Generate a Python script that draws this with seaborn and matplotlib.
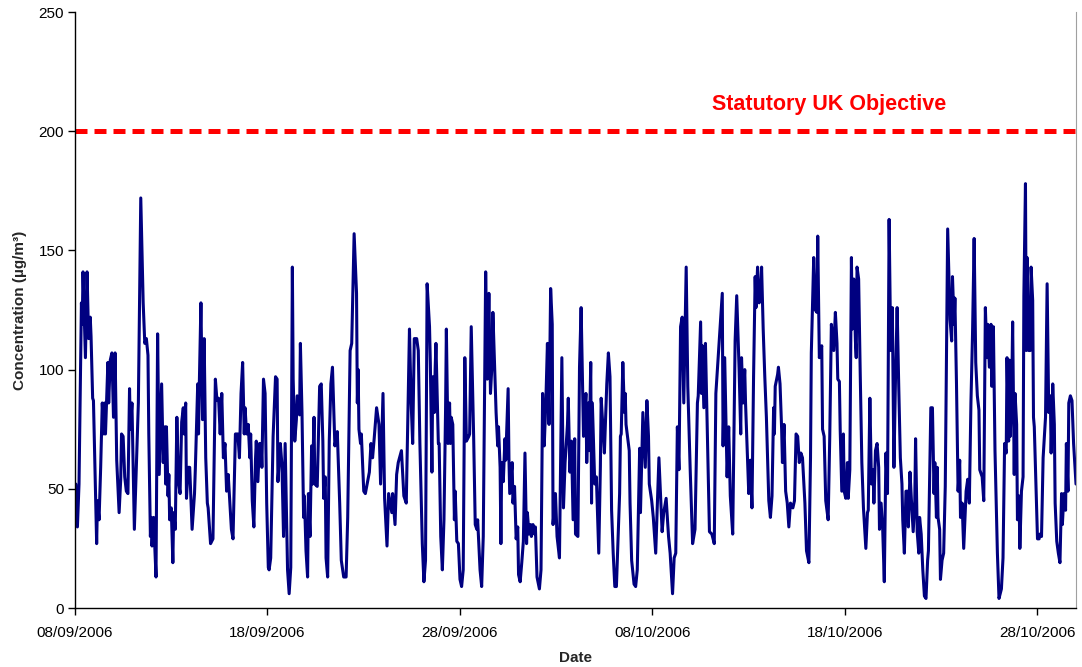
import matplotlib
matplotlib.use("Agg")
import matplotlib.pyplot as plt
import numpy as np
import pandas as pd
import seaborn as sns

# Hourly NO2 concentrations (ug/m3), hours counted from 08/09/2006 00:00
hours = [
    0, 1, 3, 5, 8, 9, 10, 13, 15, 17, 19, 20, 22, 23, 25, 27, 28, 30, 32, 34,
    36, 37, 38, 41, 42, 44, 46, 48, 50, 52, 55, 57, 58, 60, 62, 64, 66, 68, 69, 71,
    74, 79, 82, 85, 87, 89, 91, 92, 94, 95, 96, 98, 101, 103, 105,
    108, 110, 112, 113, 114, 116, 117, 118, 120, 122, 123, 125, 127, 129, 131, 133, 135, 136,
    138, 139, 141, 143, 146, 149, 150, 153, 154, 155, 157, 159, 161, 163, 165, 166, 169, 172,
    175, 177, 179, 181, 183, 185, 187, 189, 191, 195, 197, 200, 203, 205, 207, 209, 211,
    212, 214, 216, 218, 219, 221, 223, 225, 226, 228, 230, 232, 233, 235, 237, 239, 241, 242,
    244, 247, 250, 252, 253, 256, 258, 260, 262, 265, 267, 269, 271, 272, 274, 276, 277, 280,
    281, 283, 285, 286, 288, 290, 291, 293, 295, 296, 298, 299, 302, 305, 307, 309, 310, 312,
    313, 315, 317, 319, 321,
    324, 327, 330, 332, 335, 338, 340, 343, 345, 348, 351, 352, 353, 354, 356, 357, 360, 362,
    367, 369, 371, 373, 376, 379, 381, 384, 386, 389, 391, 395, 396, 399, 401, 403, 407, 410,
    413, 417, 419, 421, 423,
    426, 428, 430, 433, 435, 437, 439, 442, 443, 445, 446, 448, 449, 450, 453, 454, 456, 458,
    460, 462, 463, 465, 467, 468, 469, 471, 473, 474, 476, 478, 480, 482, 484, 486, 488, 491,
    492, 494, 497, 499, 501, 502, 505, 507, 509, 512, 514, 516, 518, 520, 521,
    525, 527, 528, 530, 531, 532, 534, 536, 537, 540, 541, 542, 545, 546, 548, 550, 552, 553,
    555, 557, 559, 561, 563, 564, 566, 568, 569, 571, 573, 574, 576, 579, 581, 583, 585, 587,
    589, 591, 593, 595, 596, 599, 601, 604, 606, 607, 609, 611, 614, 615, 617, 619, 621, 623,
    624, 627, 629, 631,
    634, 637, 638, 640, 641, 643, 644, 645, 648, 650, 653, 655, 656, 658, 660, 663, 665, 667,
    669, 671, 673, 675, 679, 680, 681, 683, 685, 686, 687, 691, 692, 694, 697, 699, 701, 704,
    705, 708, 711, 713, 715, 716, 719, 721, 724, 728, 732, 734, 737, 740,
    742, 745, 747, 749, 751, 753, 755, 757, 759, 762, 764, 767, 770, 773, 776, 777, 780, 781,
    782, 784, 786, 788, 791, 794, 797, 799, 803, 807, 808, 810, 813, 815, 817, 820, 823, 825,
    828, 830, 831, 833, 835, 836, 840, 842, 844,
    846, 848, 849, 851, 853, 855, 856, 858, 860, 862, 865, 867, 869, 871, 872, 873, 876, 877,
    879, 881, 882, 884, 886, 888, 890, 892, 895, 897, 899, 901, 903, 905, 907, 910, 912, 915,
    917, 918, 921, 923, 925, 926, 928, 931, 932, 934, 936, 939, 941, 943, 946, 948,
    950, 951, 953, 954, 956, 958, 959, 961, 963, 964, 966, 968, 969, 971, 973, 974, 975, 977,
    979, 981, 983, 986, 988, 989, 991, 993, 995, 996, 998, 1000, 1002, 1003, 1005, 1007, 1009,
    1011, 1013, 1015, 1017, 1019, 1021, 1023, 1025, 1027, 1029, 1031, 1032, 1034, 1036, 1038,
    1039, 1041, 1043, 1045, 1047, 1048, 1050, 1052, 1053, 1055, 1057,
    1059, 1061, 1063, 1064, 1067, 1069, 1071, 1072, 1074, 1075, 1076, 1078, 1079, 1081, 1083,
    1085, 1088, 1091, 1093, 1094, 1096, 1097, 1099, 1101, 1103, 1104, 1106, 1108, 1111, 1113,
    1115, 1117, 1119, 1121, 1123, 1125, 1127, 1128, 1131, 1133, 1135, 1137, 1138, 1140, 1142,
    1143, 1145, 1147, 1150, 1152,
    1155, 1157, 1159, 1161, 1162, 1164, 1165, 1166, 1168, 1169, 1171, 1172, 1174, 1175, 1177,
    1178, 1180, 1182, 1183, 1185, 1186, 1187, 1189, 1191, 1192, 1194, 1195, 1196, 1198, 1200,
    1202, 1203, 1205, 1207, 1210, 1212, 1214, 1216, 1217, 1219, 1221, 1222, 1224, 1226, 1228,
    1230, 1231, 1233, 1235, 1236, 1238, 1239, 1241, 1243, 1245, 1248,
]

concentration = [
    52, 52, 34, 52, 128, 119, 141, 105, 141, 113, 122, 114, 88, 87, 58, 27, 45, 37, 59, 86,
    73, 86, 73, 103, 86, 104, 107, 80, 107, 62, 40, 54, 73, 72, 55, 49, 48, 92, 75, 86,
    33, 86, 172, 128, 111, 113, 106, 73, 30, 38, 26, 38, 13, 115, 56,
    94, 61, 76, 52, 76, 47, 56, 37, 42, 19, 40, 33, 80, 53, 48, 78, 84, 73,
    86, 46, 59, 59, 33, 48, 58, 94, 73, 94, 128, 79, 113, 63, 44, 42, 27, 29,
    96, 87, 88, 73, 90, 63, 69, 49, 56, 33, 29, 73, 73, 63, 90, 103, 73,
    84, 73, 77, 63, 73, 45, 34, 62, 70, 53, 69, 69, 59, 96, 90, 44, 17, 16,
    21, 72, 97, 96, 53, 69, 60, 30, 69, 16, 6, 17, 143, 96, 70, 79, 89, 81,
    111, 82, 38, 47, 24, 13, 48, 30, 68, 52, 80, 52, 51, 93, 94, 70, 46, 55,
    21, 13, 70, 94, 101,
    68, 74, 44, 20, 13, 13, 38, 108, 111, 157, 132, 86, 100, 75, 69, 73, 49, 48,
    57, 69, 63, 71, 84, 77, 52, 90, 46, 26, 48, 40, 48, 35, 56, 61, 66, 47,
    44, 117, 87, 69, 113,
    113, 108, 69, 27, 11, 20, 136, 118, 103, 57, 97, 82, 100, 111, 69, 69, 30, 16,
    37, 83, 117, 69, 86, 69, 80, 77, 37, 49, 28, 27, 12, 9, 16, 105, 70, 72,
    73, 118, 72, 35, 33, 37, 16, 9, 30, 141, 96, 132, 90, 103, 124,
    82, 68, 76, 59, 27, 61, 53, 71, 62, 92, 63, 48, 61, 44, 51, 29, 34, 14,
    11, 19, 28, 65, 27, 40, 31, 35, 30, 35, 31, 34, 13, 8, 16, 90, 68, 86,
    111, 77, 134, 119, 35, 48, 30, 21, 75, 105, 42, 61, 77, 88, 57, 70, 37, 71,
    31, 30, 101, 126,
    72, 90, 61, 86, 66, 103, 44, 86, 52, 55, 23, 59, 88, 77, 65, 94, 107, 97,
    41, 23, 9, 9, 48, 72, 73, 103, 82, 90, 77, 66, 44, 20, 10, 9, 16, 67,
    40, 82, 59, 87, 72, 52, 45, 38, 23, 63, 32, 40, 46, 30,
    23, 6, 21, 23, 76, 58, 118, 122, 86, 143, 93, 58, 27, 33, 86, 89, 120, 90,
    110, 84, 111, 79, 32, 31, 27, 90, 111, 132, 68, 105, 55, 76, 47, 31, 112, 131,
    100, 73, 105, 86, 100, 86, 48, 62, 42,
    97, 139, 126, 143, 128, 132, 143, 117, 97, 80, 45, 38, 47, 84, 73, 93, 98, 101,
    94, 75, 61, 77, 49, 44, 34, 44, 42, 45, 73, 72, 61, 65, 63, 44, 24, 19,
    63, 107, 147, 125, 124, 156, 105, 110, 75, 72, 45, 37, 72, 119, 108, 124,
    111, 96, 95, 75, 49, 73, 49, 46, 61, 46, 58, 147, 117, 138, 112, 105, 143, 138,
    98, 61, 42, 25, 40, 41, 88, 52, 58, 44, 66, 69, 59, 33, 44, 33, 11,
    65, 48, 163, 108, 126, 59, 97, 126, 93, 63, 52, 37, 23, 49, 49,
    34, 57, 44, 32, 45, 71, 32, 23, 38, 31, 16,
    5, 4, 20, 24, 84, 84, 48, 61, 38, 59, 38, 33, 12, 20, 23,
    51, 159, 121, 112, 139, 119, 130, 94, 49, 62, 38, 44, 25, 49, 54,
    44, 86, 115, 155, 103, 89, 83, 58, 55, 45, 126, 105, 119, 101, 119,
    93, 118, 66, 23, 4,
    8, 21, 69, 65, 105, 70, 104, 72, 93, 120, 56, 90, 77, 37, 47,
    25, 49, 55, 131, 178, 108, 147, 108, 108, 143, 129, 80, 76, 53, 29,
    29, 31, 30, 63, 80, 136, 82, 89, 65, 94, 77, 44, 28, 23, 19,
    48, 35, 48, 41, 69, 49, 86, 89, 87, 69, 52,
]

objective = 200
objective_label = "Statutory UK Objective"
y_ticks = [0, 50, 100, 150, 200, 250]
x_tick_labels = ["08/09/2006", "18/09/2006", "28/09/2006",
                 "08/10/2006", "18/10/2006", "28/10/2006"]

sns.set_style("ticks")
plt.rcParams["font.family"] = ["Liberation Sans", "DejaVu Sans"]

start = pd.Timestamp("2006-09-08 00:00")
df = pd.DataFrame({
    "Date": start + pd.to_timedelta(np.array(hours, dtype=float), unit="h"),
    "Concentration": concentration,
})

fig = plt.figure(figsize=(10.82, 6.67), dpi=100)
ax = fig.add_axes([75 / 1082, 1 - 608 / 667, 1001 / 1082, 596 / 667])

sns.lineplot(data=df, x="Date", y="Concentration", ax=ax, color="#000080",
             linewidth=2.2, estimator=None, sort=False)
ax.axhline(objective, color="#FF0000", linewidth=3.6, linestyle=(0, (2.4, 1.4)))

ax.text(0.753, 0.844, objective_label, transform=ax.transAxes, color="#FF0000",
        fontsize=15.5, fontweight="bold", ha="center", va="center")

ax.set_xlim(start, start + pd.Timedelta(hours=1248))
ax.set_ylim(0, 250)
ax.set_yticks(y_ticks)
ax.set_xticks(pd.to_datetime(x_tick_labels, format="%d/%m/%Y"))
ax.set_xticklabels(x_tick_labels)

ax.tick_params(axis="both", direction="out", length=5, width=1, colors="black",
               labelsize=11)
ax.tick_params(axis="x", pad=8)
ax.tick_params(axis="y", pad=3)
ax.set_xlabel("Date", fontsize=11, fontweight="bold", labelpad=8)
ax.set_ylabel("Concentration (µg/m³)", fontsize=11, fontweight="bold", labelpad=8)

for side in ("left", "bottom"):
    ax.spines[side].set_color("black")
    ax.spines[side].set_linewidth(1)
ax.spines["top"].set_visible(False)
ax.spines["right"].set_color("#A0A0A0")
ax.spines["right"].set_linewidth(0.8)

fig.savefig("out.png", dpi=100)
